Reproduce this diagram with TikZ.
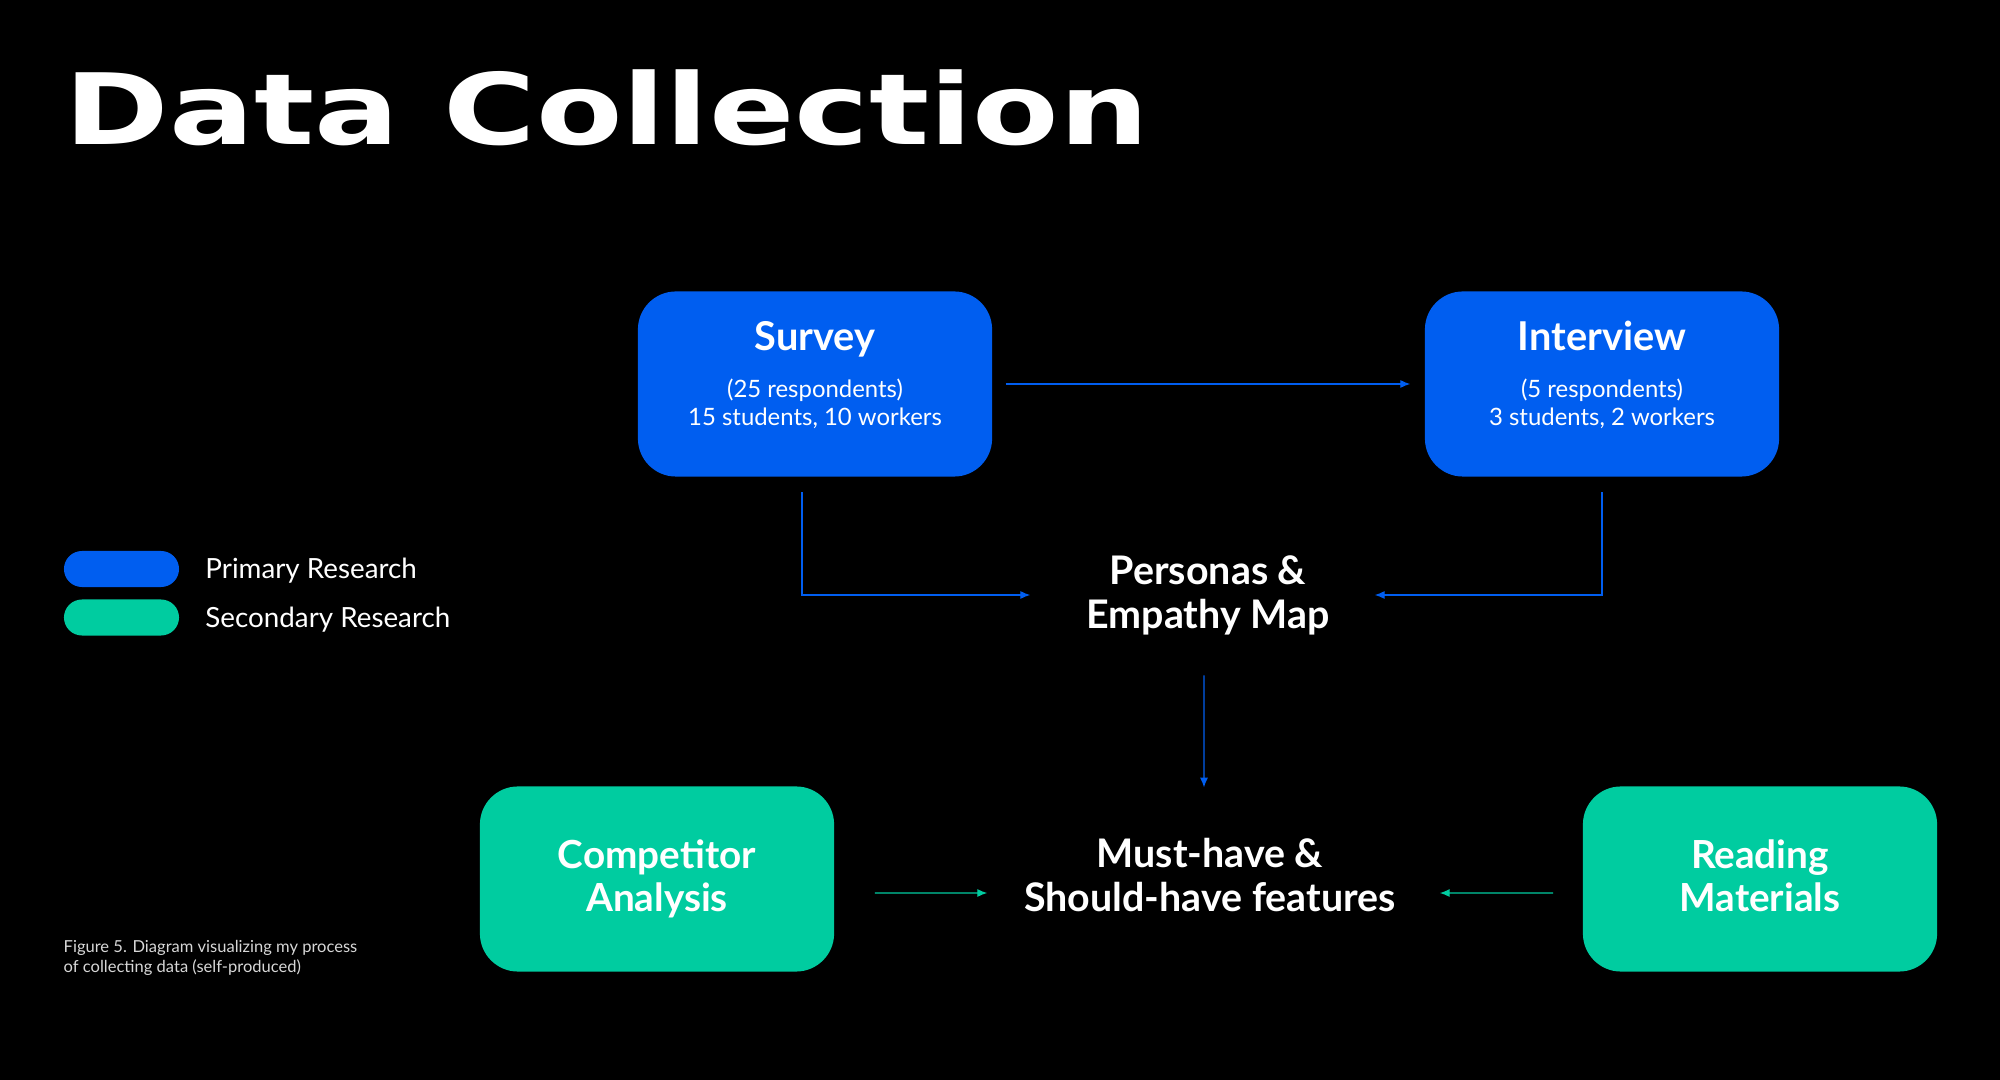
\documentclass[tikz,border=0pt]{standalone}
\usepackage{fontspec}
\setmainfont{Lato}
\newfontfamily\titlefont{DejaVu Sans}
\usetikzlibrary{arrows.meta, positioning}
\definecolor{primblue}{RGB}{0,94,240}
\definecolor{secgreen}{RGB}{0,204,160}
\definecolor{capgray}{RGB}{215,215,215}
\tikzstyle{primbox} = [rectangle, rounded corners=0.38cm, minimum width=3.54cm, minimum height=1.85cm,
                       text centered, fill=primblue, text=white, align=center,
                       font=\fontsize{6.8}{8}\selectfont]
\tikzstyle{secbox}  = [rectangle, rounded corners=0.38cm, minimum width=3.54cm, minimum height=1.85cm,
                       text centered, fill=secgreen, text=white, align=center,
                       font=\fontsize{11}{12.2}\selectfont\bfseries]
\tikzstyle{result}  = [text=white, align=center, inner sep=0pt, font=\fontsize{11.2}{12.5}\selectfont\bfseries]
\tikzstyle{pill}    = [rectangle, rounded corners=0.18cm, minimum width=1.15cm, minimum height=0.36cm, inner sep=0pt]
\tikzstyle{legtext} = [text=white, inner sep=0pt, font=\fontsize{7.9}{9}\selectfont]
\tikzstyle{barrow}  = [-{Latex[length=2.8pt, width=2.3pt]}, primblue, line width=0.35pt]
\tikzstyle{garrow}  = [-{Latex[length=2.8pt, width=2.3pt]}, secgreen, line width=0.35pt]
\newcommand{\boxhead}[1]{{\fontsize{11.3}{13}\selectfont\bfseries #1}}

\begin{document}
\begin{tikzpicture}[x=0.01cm, y=-0.01cm]
    \fill[black] (0,0) rectangle (2000,1080);

    % Title
    \node (title) [anchor=base west, inner sep=0pt, text=white] at (64,145)
        {\titlefont\bfseries\fontsize{28}{28}\selectfont\scalebox{1.28}[1]{Data Collection}};

    % Primary research (top row)
    \node (survey) [primbox] at (815,384) {\boxhead{Survey}\\[5.2pt](25 respondents)\\15 students, 10 workers\\[-2pt]{}};
    \node (interview) [primbox] at (1602,384) {\boxhead{Interview}\\[5.2pt](5 respondents)\\3 students, 2 workers\\[-2pt]{}};

    % Results (middle column)
    \node (persona) [result, minimum width=3.43cm] at (1208,595) {Personas \&\\Empathy Map};
    \node (must) [result, minimum width=4.51cm] at (1210,875) {Must-have \&\\Should-have features};

    % Secondary research (bottom row)
    \node (competitor) [secbox] at (657,879) {Competitor\\Analysis};
    \node (reading) [secbox] at (1760,879) {Reading\\Materials\vphantom{y}};

    % Legend
    \node (primpill) [pill, fill=primblue] at (121.5,569) {};
    \node (secpill) [pill, fill=secgreen] at (121.5,617.5) {};
    \node (primlbl) [legtext, right=0.25cm of primpill, yshift=-0.02cm] {Primary Research};
    \node (seclbl) [legtext, right=0.25cm of secpill, yshift=-0.02cm] {Secondary Research};

    % Caption
    \node (caption) [anchor=base west, inner sep=0pt, align=left, text=capgray,
                     font=\fontsize{4.7}{5.5}\selectfont] at (63,972)
        {Figure 5. Diagram visualizing my process\\of collecting data (self-produced)};

    % Primary arrows
    \draw[barrow] ([xshift=0.13cm]survey.east) -- ([xshift=-0.14cm]interview.west);
    \draw[barrow] ([xshift=-0.13cm, yshift=-0.15cm]survey.south) |- ([xshift=-0.055cm]persona.west);
    \draw[barrow] ([yshift=-0.15cm]interview.south) |- ([xshift=-0.055cm]persona.east);
    \draw[barrow] ([xshift=-0.04cm, yshift=-0.4cm]persona.south) -- ([xshift=-0.06cm, yshift=0.5cm]must.north);

    % Secondary arrows
    \draw[garrow] ([xshift=0.4cm, yshift=-0.14cm]competitor.east) -- ([xshift=0.035cm, yshift=-0.18cm]must.west);
    \draw[garrow] ([xshift=-0.29cm, yshift=-0.14cm]reading.west) -- ([xshift=0.035cm, yshift=-0.18cm]must.east);
\end{tikzpicture}
\end{document}
